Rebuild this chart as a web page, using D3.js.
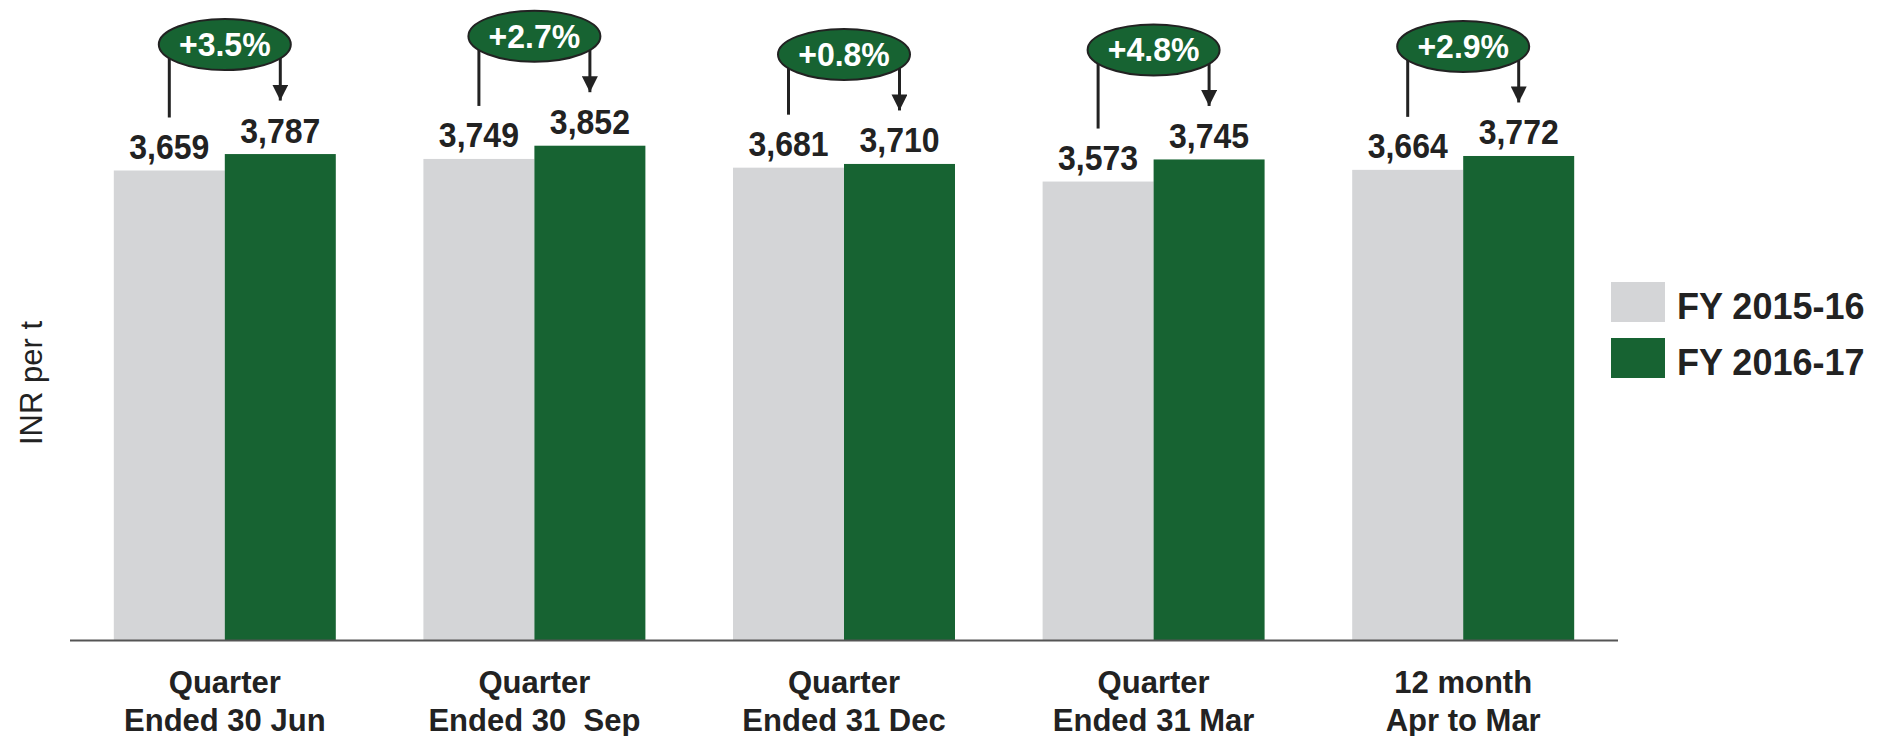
<!DOCTYPE html>
<html>
<head>
<meta charset="utf-8">
<script src="https://cdn.jsdelivr.net/npm/d3@7"></script>
<style>
  body { margin: 0; background: #fff; }
  text { font-family: "Liberation Sans", Arial, sans-serif; }
</style>
</head>
<body>
<script>
// DATA
const categories = [['Quarter', 'Ended 30 Jun'], ['Quarter', 'Ended 30  Sep'], ['Quarter', 'Ended 31 Dec'], ['Quarter', 'Ended 31 Mar'], ['12 month', 'Apr to Mar']];
const seriesNames = ['FY 2015-16', 'FY 2016-17'];
const fy1516 = [3659, 3749, 3681, 3573, 3664];
const fy1617 = [3787, 3852, 3710, 3745, 3772];
const changes = ['+3.5%', '+2.7%', '+0.8%', '+4.8%', '+2.9%'];

// DEFS
const width = 1877;
const height = 736;
const grayColor = '#d4d5d7';
const greenColor = '#176332';
const textColor = '#222';
const valueFont = 'bold 32px "Liberation Sans", Arial, sans-serif';

const svg = d3.select('body').append('svg').attr('width', width).attr('height', height);

// SCALES
const x0 = d3.scaleBand().domain(d3.range(categories.length)).range([70, 1618]).paddingInner(0.283).paddingOuter(0.1415);
const x1 = d3.scaleBand().domain([0, 1]).range([0, x0.bandwidth()]);
const y = d3.scaleLinear().domain([0, 4000]).range([640.5, 126.7]);

const rows = categories.map((c, i) => ({i, values: [fy1516[i], fy1617[i]]}));

// BARS
const groups = svg.selectAll('.grp').data(rows).enter().append('g')
    .attr('class', 'grp')
    .attr('transform', d => `translate(${x0(d.i)},0)`);

groups.selectAll('rect').data(d => d.values).enter().append('rect')
    .attr('x', (d, j) => x1(j))
    .attr('width', x1.bandwidth())
    .attr('y', d => y(d))
    .attr('height', d => y(0) - y(d))
    .attr('fill', (d, j) => j === 0 ? grayColor : greenColor);

// value labels, a bit taller than wide like the original
groups.selectAll('.val').data(d => d.values).enter().append('text')
    .attr('class', 'val')
    .attr('transform', (d, j) => `translate(${x1(j) + x1.bandwidth() / 2},${y(d) - 11.5}) scale(1,1.09)`)
    .attr('text-anchor', 'middle')
    .attr('fill', textColor)
    .style('font', valueFont)
    .text(d => d3.format(',')(d));

// AXIS LINE
svg.append('line')
    .attr('x1', 70).attr('x2', 1618)
    .attr('y1', y(0)).attr('y2', y(0))
    .attr('stroke', '#555').attr('stroke-width', 2);

// CATEGORY LABELS
const catText = svg.selectAll('.cat').data(categories).enter().append('text')
    .attr('class', 'cat')
    .attr('text-anchor', 'middle')
    .attr('fill', textColor)
    .style('white-space', 'pre')
    .style('font', 'bold 31px "Liberation Sans", Arial, sans-serif');
catText.selectAll('tspan').data(d => d).enter().append('tspan')
    .attr('x', function () { const i = categories.indexOf(d3.select(this.parentNode).datum()); return x0(i) + x0.bandwidth() / 2; })
    .attr('y', (d, k) => 693 + k * 37.5)
    .text(d => d);

// CHANGE BUBBLES
const arrowDefs = svg.append('defs');
arrowDefs.append('marker')
    .attr('id', 'arrowHead')
    .attr('viewBox', '0 0 10 10')
    .attr('refX', 10).attr('refY', 5)
    .attr('markerWidth', 16).attr('markerHeight', 16)
    .attr('markerUnits', 'userSpaceOnUse')
    .attr('orient', 'auto')
  .append('path')
    .attr('d', 'M0,0 L10,5 L0,10 Z')
    .attr('fill', textColor);

groups.each(function (d) {
    const g = d3.select(this);
    const cx = x0.bandwidth() / 2;
    const cy = y(d3.max(d.values)) - 109.5;
    const leftX = x1(0) + x1.bandwidth() / 2;
    const rightX = x1(1) + x1.bandwidth() / 2;
    g.append('line')
        .attr('x1', leftX).attr('x2', leftX)
        .attr('y1', cy).attr('y2', y(d.values[0]) - 53)
        .attr('stroke', textColor).attr('stroke-width', 3);
    g.append('line')
        .attr('x1', rightX).attr('x2', rightX)
        .attr('y1', cy).attr('y2', y(d.values[1]) - 53.5)
        .attr('stroke', textColor).attr('stroke-width', 3)
        .attr('marker-end', 'url(#arrowHead)');
    g.append('ellipse')
        .attr('cx', cx).attr('cy', cy)
        .attr('rx', 66).attr('ry', 25.5)
        .attr('fill', greenColor)
        .attr('stroke', textColor).attr('stroke-width', 2);
    g.append('text')
        .attr('transform', `translate(${cx},${cy + 11.5}) scale(1,1.05)`)
        .attr('text-anchor', 'middle')
        .attr('fill', '#fff')
        .style('font', 'bold 32px "Liberation Sans", Arial, sans-serif')
        .text(changes[d.i]);
});

// Y LABEL
svg.append('text')
    .attr('transform', 'translate(42,383) rotate(-90)')
    .attr('text-anchor', 'middle')
    .attr('fill', textColor)
    .style('font', '31px "Liberation Sans", Arial, sans-serif')
    .text('INR per t');

// LEGEND
const legend = svg.selectAll('.leg').data(seriesNames).enter().append('g')
    .attr('class', 'leg')
    .attr('transform', (d, i) => `translate(1611,${282 + i * 56})`);
legend.append('rect')
    .attr('width', 54).attr('height', 40)
    .attr('fill', (d, i) => i === 0 ? grayColor : greenColor);
legend.append('text')
    .attr('x', 66).attr('y', 36.5)
    .attr('fill', textColor)
    .style('font', 'bold 36px "Liberation Sans", Arial, sans-serif')
    .text(d => d);
</script>
</body>
</html>
